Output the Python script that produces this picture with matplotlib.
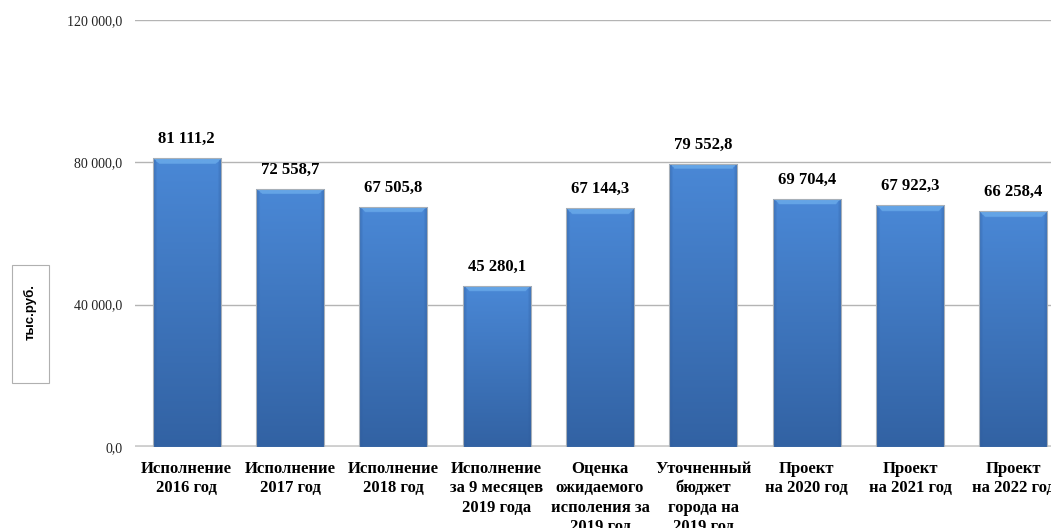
import numpy as np
import matplotlib
matplotlib.use("Agg")
import matplotlib.pyplot as plt
from matplotlib.patches import Rectangle

# Data
categories = [
    "Исполнение\n2016 год",
    "Исполнение\n2017 год",
    "Исполнение\n2018 год",
    "Исполнение\nза 9 месяцев\n2019 года",
    "Оценка\nожидаемого\nисполения за\n2019 год",
    "Уточненный\nбюджет\nгорода на\n2019 год",
    "Проект\nна 2020 год",
    "Проект\nна 2021 год",
    "Проект\nна 2022 год",
]
values = [81111.2, 72558.7, 67505.8, 45280.1, 67144.3, 79552.8, 69704.4, 67922.3, 66258.4]
y_ticks = [0, 40000, 80000, 120000]
y_label = "тыс.руб."

serif = ["Liberation Serif", "DejaVu Serif"]
sans = ["Liberation Sans", "DejaVu Sans"]


def fmt(v):
    s = f"{v:,.1f}".replace(",", " ").replace(".", ",")
    return s


fig = plt.figure(figsize=(10.51, 5.28), dpi=100)
ax = fig.add_axes([135 / 1051, 81 / 528, 916 / 1051, 427 / 528])

x = np.arange(len(values))
width = 0.66
ax.set_ylim(0, 120000)
ax.set_xlim(-0.5, 8.364)

# pixels per data unit (vertical)
px_per_unit = 427 / 120000

top_c = np.array([74, 136, 214]) / 255
bot_c = np.array([50, 98, 163]) / 255
bevel_c = np.array([100, 164, 230]) / 255
side_c = np.array([45, 90, 155]) / 255

bars = ax.bar(x, values, width, facecolor="none", edgecolor="#a8b0b8",
              linewidth=0.8, zorder=3)

for bar, v in zip(bars, values):
    H = 400
    W = 68
    bar_px = v * px_per_unit
    t = np.linspace(0, 1, H)[:, None]
    img = top_c[None, None, :] * (1 - t[..., None]) + bot_c[None, None, :] * t[..., None]
    img = np.repeat(img, W, axis=1)
    bev_rows = max(1, int(round(6 / bar_px * H)))
    row_px = np.arange(H) * bar_px / H
    for c in range(W):
        d = min(c, W - 1 - c)
        if d < 4:
            k = (4 - d) / 4
            img[:, c, :] = img[:, c, :] * (1 - 0.5 * k) + side_c * 0.5 * k
    for r in range(bev_rows):
        rp = row_px[r]
        for c in range(W):
            d = min(c, W - 1 - c)
            if d >= rp:
                img[r, c, :] = bevel_c
    img = np.clip(img, 0, 1)
    bx = bar.get_x()
    im = ax.imshow(img, extent=(bx, bx + bar.get_width(), 0, v), aspect="auto",
                   interpolation="bilinear", zorder=2)
    im.set_clip_path(bar)
    ax.annotate(fmt(v), (bar.get_x() + bar.get_width() / 2, v),
                textcoords="offset points", xytext=(0, 8), ha="center", va="bottom",
                fontsize=12, fontweight="bold", family=serif, color="black")

ax.set_ylim(0, 120000)
ax.set_xlim(-0.5, 8.364)

for yt in y_ticks[1:]:
    ax.axhline(yt, color="#b4b4b4", linewidth=1, zorder=1)
ax.axhline(0, color="#cfcfcf", linewidth=3.5, zorder=1)

ax.set_yticks(y_ticks)
ax.set_yticklabels([fmt(v) for v in y_ticks], family=serif, fontsize=10, color="#222222")
ax.tick_params(axis="y", length=0, pad=9)
ax.set_xticks(x)
ax.set_xticklabels(categories, family=serif, fontsize=12, fontweight="bold",
                   linespacing=1.28)
ax.tick_params(axis="x", length=0, pad=10)
for s in ax.spines.values():
    s.set_visible(False)

# y label in a box
fig.patches.append(Rectangle((12 / 1051, 145 / 528), 37 / 1051, 118 / 528,
                             transform=fig.transFigure, facecolor="white",
                             edgecolor="#b0b0b0", linewidth=0.8))
fig.text(30 / 1051, (528 - 312) / 528, y_label, rotation=90, ha="center", va="center",
         family=sans, fontsize=9.5, fontweight="bold")

fig.savefig("out.png", dpi=100)
